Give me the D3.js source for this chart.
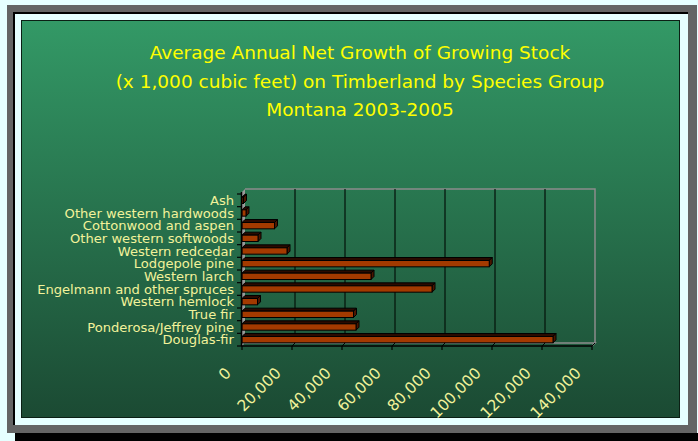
<!DOCTYPE html>
<html><head><meta charset="utf-8">
<script src="https://cdn.jsdelivr.net/npm/d3@7"></script>
<style>html,body{margin:0;padding:0;background:#e6ffff;}svg{display:block;}</style>
</head><body>
<svg id="c" width="698" height="441"></svg>
<script>
const categories = ["Ash","Other western hardwoods","Cottonwood and aspen","Other western softwoods","Western redcedar","Lodgepole pine","Western larch","Engelmann and other spruces","Western hemlock","True fir","Ponderosa/Jeffrey pine","Douglas-fir"];
const values = [600,1600,13000,6400,18000,98900,51600,76000,6200,44600,45600,124400];
const tickValues = [0,20000,40000,60000,80000,100000,120000,140000];
const titleLines = ["Average Annual Net Growth of Growing Stock","(x 1,000 cubic feet) on Timberland by Species Group","Montana 2003-2005"];

const svg = d3.select("#c");
const W = 698, H = 441;
const defs = svg.append("defs");
const g = defs.append("linearGradient").attr("id","bg").attr("x1",0).attr("y1",0).attr("x2",0).attr("y2",1);
g.append("stop").attr("offset","0%").attr("stop-color","#339966");
g.append("stop").attr("offset","100%").attr("stop-color","#1b4a33");

// frame
svg.append("rect").attr("x",0).attr("y",0).attr("width",W).attr("height",H).attr("fill","#e6ffff");
svg.append("rect").attr("x",15).attr("y",433).attr("width",683).attr("height",8).attr("fill","#000");
svg.append("rect").attr("x",7).attr("y",5).attr("width",690).attr("height",428).attr("fill","#646464");
svg.append("rect").attr("x",13).attr("y",12).attr("width",675).attr("height",413).attr("fill","#e6ffff");
svg.append("rect").attr("x",13).attr("y",12).attr("width",675).attr("height",2).attr("fill","#000");
svg.append("rect").attr("x",13).attr("y",12).attr("width",2).attr("height",413).attr("fill","#000");
svg.append("rect").attr("x",21.5).attr("y",20.5).attr("width",658).attr("height",397)
  .attr("fill","url(#bg)").attr("stroke","#0b1f14").attr("stroke-width",1);

// title
const title = svg.append("text").attr("text-anchor","middle").attr("fill","#ffff00")
  .style("font-family","DejaVu Sans, sans-serif").style("font-size","18.5px");
titleLines.forEach((t,i)=>{
  title.append("tspan").attr("x",360).attr("y",59 + i*28.5).text(t);
});

// scales
const dx = 3, dy = -3;
const x = d3.scaleLinear().domain([0,140000]).range([242,592]);
const y = d3.scaleBand().domain(categories).range([194,346]).paddingInner(0.5).paddingOuter(0.25);
const yTicks = d3.scaleBand().domain(categories).range([194,346]);
const x0 = x(0), yBottom = 346, yTop = 192;

const chart = svg.append("g");
// left wall
chart.append("polygon")
  .attr("points",[[x0,yTop],[x0+dx,yTop+dy],[x0+dx,yBottom+dy],[x0,yBottom]].map(p=>p.join(",")).join(" "))
  .attr("fill","#9a9a9a");
// back wall outline (top and right)
chart.append("path")
  .attr("d",`M${x0+dx},${yTop+dy}H${x(140000)+dx}V${yBottom+dy}`)
  .attr("fill","none").attr("stroke","#8c8c8c").attr("stroke-width",1.5);
// floor
chart.append("path")
  .attr("d",`M${x0+dx},${yBottom+dy}H${x(140000)+dx}L${x(140000)},${yBottom}`)
  .attr("fill","none").attr("stroke","#8c8c8c").attr("stroke-width",1.5);

// gridlines
tickValues.slice(1,-1).forEach(v=>{
  chart.append("line").attr("x1",x(v)+dx).attr("x2",x(v)+dx).attr("y1",yTop+dy).attr("y2",yBottom+dy)
    .attr("stroke","#06170e").attr("stroke-width",1.5).attr("opacity",0.85);
});
tickValues.slice(1).forEach(v=>{
  chart.append("line").attr("x1",x(v)).attr("x2",x(v)+dx).attr("y1",yBottom).attr("y2",yBottom+dy)
    .attr("stroke","#000").attr("stroke-width",1);
});

// bars
const bars = chart.selectAll("g.bar").data(categories.map((c,i)=>({c,v:values[i]}))).join("g").attr("class","bar");
bars.each(function(d){
  const gg = d3.select(this);
  const xa = x0, xb = x(d.v), yt = y(d.c), h = y.bandwidth();
  gg.append("polygon")
    .attr("points",[[xa,yt],[xa+dx,yt+dy],[xb+dx,yt+dy],[xb,yt]].map(p=>p.join(",")).join(" "))
    .attr("fill","#2a0a00").attr("stroke","#000").attr("stroke-width",1);
  gg.append("polygon")
    .attr("points",[[xb,yt],[xb+dx,yt+dy],[xb+dx,yt+h+dy],[xb,yt+h]].map(p=>p.join(",")).join(" "))
    .attr("fill","#4a1600").attr("stroke","#000").attr("stroke-width",1);
  gg.append("rect").attr("x",xa).attr("y",yt).attr("width",Math.max(0,xb-xa)).attr("height",h)
    .attr("fill","#a33a00").attr("stroke","#000").attr("stroke-width",1);
});

// axes
chart.append("line").attr("x1",x0-0.5).attr("x2",x0-0.5).attr("y1",yTop).attr("y2",yBottom)
  .attr("stroke","#000").attr("stroke-width",1.5);
chart.append("line").attr("x1",x0-0.5).attr("x2",x(140000)).attr("y1",yBottom).attr("y2",yBottom)
  .attr("stroke","#000").attr("stroke-width",1.5);
const catBounds = categories.map(c=>yTicks(c)).concat([346]);
catBounds.forEach(b=>{
  chart.append("line").attr("x1",x0-5).attr("x2",x0).attr("y1",b).attr("y2",b)
    .attr("stroke","#000").attr("stroke-width",1.2);
});
tickValues.forEach(v=>{
  chart.append("line").attr("x1",x(v)).attr("x2",x(v)).attr("y1",yBottom).attr("y2",yBottom+4)
    .attr("stroke","#000").attr("stroke-width",1.2);
});

// category labels
svg.append("g").selectAll("text").data(categories).join("text")
  .attr("x",234).attr("y",d=>yTicks(d)+yTicks.bandwidth()/2)
  .attr("dy","0.36em").attr("text-anchor","end").attr("fill","#f2f29a")
  .style("font-family","DejaVu Sans, sans-serif").style("font-size","13.1px")
  .text(d=>d);

// value tick labels
svg.append("g").selectAll("text").data(tickValues).join("text")
  .attr("transform",d=>`translate(${x(d)-10},${374}) rotate(-45)`)
  .attr("text-anchor","end").attr("fill","#f2f29a")
  .style("font-family","DejaVu Sans, sans-serif").style("font-size","15.5px")
  .text(d=>d3.format(",")(d));
</script>
</body></html>
